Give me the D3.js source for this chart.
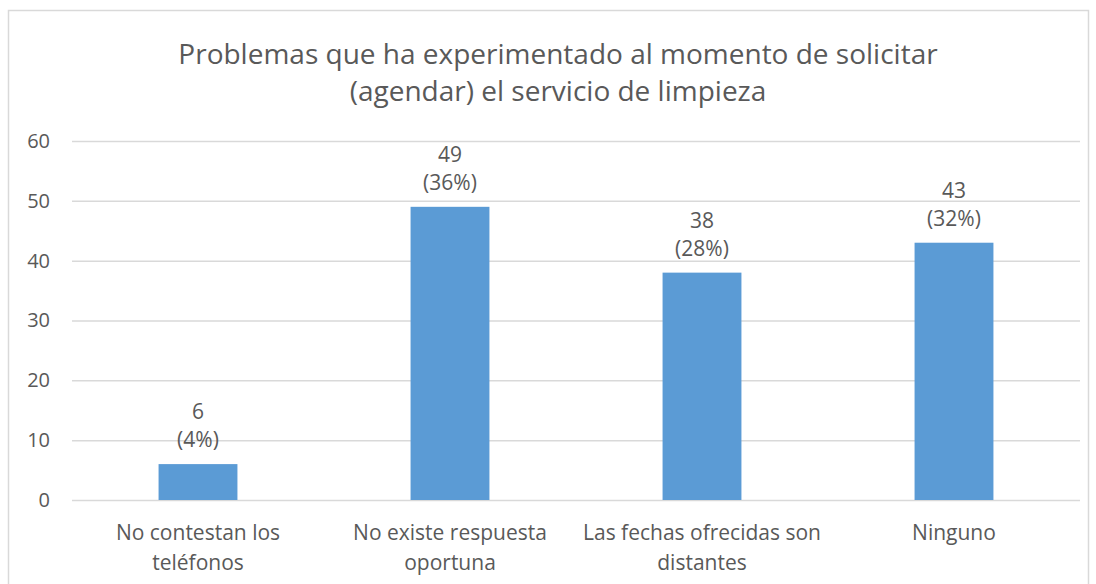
<!DOCTYPE html>
<html>
<head>
<meta charset="utf-8">
<script src="https://cdn.jsdelivr.net/npm/d3@7"></script>
<style>
  body { margin: 0; background: #fff; }
  svg text { font-family: "Open Sans", sans-serif; fill: #595959; }
</style>
</head>
<body>
<div id="chart"></div>
<script>
const titleLines = ["Problemas que ha experimentado al momento de solicitar", "(agendar) el servicio de limpieza"]
const categories = [["No contestan los", "teléfonos"], ["No existe respuesta", "oportuna"], ["Las fechas ofrecidas son", "distantes"], ["Ninguno"]]
const values = [6, 49, 38, 43]
const percents = ["(4%)", "(36%)", "(28%)", "(32%)"]
const yTicks = [0, 10, 20, 30, 40, 50, 60]

const width = 1096
const height = 584
const margin = { top: 141, right: 16, bottom: 84, left: 72 }

const svg = d3.select("#chart").append("svg").attr("width", width).attr("height", height)

// chart border
svg.append("rect")
  .attr("x", 8.5).attr("y", 10.5)
  .attr("width", 1080).attr("height", 600)
  .attr("fill", "none").attr("stroke", "#d9d9d9").attr("stroke-width", 1.5)

const x = d3.scaleBand()
  .domain(d3.range(values.length))
  .range([margin.left, width - margin.right])
  .paddingInner(0.687)
  .paddingOuter(0.3435)

const y = d3.scaleLinear()
  .domain([0, 60])
  .range([height - margin.bottom, margin.top])

// gridlines + y labels
const yAxis = svg.append("g")
  .attr("transform", `translate(${margin.left},0)`)
  .call(d3.axisLeft(y).tickValues(yTicks).tickSize(-(width - margin.left - margin.right)).tickPadding(22))
yAxis.select(".domain").remove()
yAxis.selectAll(".tick line").attr("stroke", "#d9d9d9").attr("stroke-width", 1.5)
yAxis.selectAll(".tick text").attr("font-size", 20).style("fill", "#595959")

// bars
svg.selectAll("rect.bar")
  .data(values)
  .enter()
  .append("rect")
  .attr("class", "bar")
  .attr("x", (_, i) => x(i))
  .attr("y", d => y(d))
  .attr("width", x.bandwidth())
  .attr("height", d => y(0) - y(d))
  .attr("fill", "#5b9bd5")

// data labels
const lbl = svg.selectAll("text.val")
  .data(values)
  .enter()
  .append("text")
  .attr("class", "val")
  .attr("text-anchor", "middle")
  .attr("font-size", 21)
  .attr("x", (_, i) => x(i) + x.bandwidth() / 2)
  .attr("y", d => y(d) - 45)
lbl.append("tspan").text(d => d)
lbl.append("tspan")
  .attr("x", (_, i) => x(i) + x.bandwidth() / 2)
  .attr("dy", 28)
  .text((_, i) => percents[i])

// category labels
const cat = svg.selectAll("text.cat")
  .data(categories)
  .enter()
  .append("text")
  .attr("class", "cat")
  .attr("text-anchor", "middle")
  .attr("font-size", 21)
  .attr("y", y(0) + 40)
cat.selectAll("tspan")
  .data((d, i) => d.map(t => ({ t, i })))
  .enter()
  .append("tspan")
  .attr("x", d => x(d.i) + x.bandwidth() / 2)
  .attr("dy", (_, j) => j === 0 ? 0 : 30)
  .text(d => d.t)

// title
svg.append("text")
  .attr("text-anchor", "middle")
  .attr("font-size", 28)
  .attr("x", 558)
  .attr("y", 64)
  .selectAll("tspan")
  .data(titleLines)
  .enter()
  .append("tspan")
  .attr("x", 558)
  .attr("dy", (_, j) => j === 0 ? 0 : 37)
  .text(d => d)
</script>
</body>
</html>
